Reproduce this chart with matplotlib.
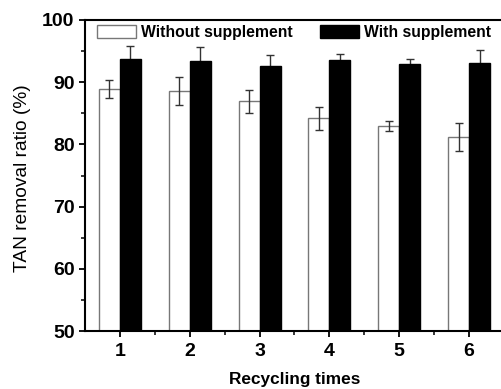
import numpy as np
import matplotlib
matplotlib.use('Agg')
import matplotlib.pyplot as plt

plt.rcParams['font.family'] = ['Liberation Sans', 'DejaVu Sans']

cycles = [1, 2, 3, 4, 5, 6]
without_sup = [88.9, 88.6, 86.9, 84.2, 82.9, 81.2]
without_err = [1.45, 2.2, 1.8, 1.85, 0.8, 2.3]
with_sup = [93.7, 93.4, 92.6, 93.5, 92.9, 93.1]
with_err = [2.1, 2.2, 1.8, 1.0, 0.9, 2.0]

x = np.array(cycles)
w = 0.3

fig = plt.figure(figsize=(5.01, 3.89), dpi=100)
ax = fig.add_axes([85/501, 58/389, 419/501, 311/389])

ax.bar(x - w/2, without_sup, w, color='white', edgecolor='#777777', linewidth=1.0,
       label='Without supplement', zorder=2)
ax.errorbar(x - w/2, without_sup, yerr=without_err, fmt='none', ecolor='#333333',
            elinewidth=1.0, capsize=3, capthick=1.0, zorder=3)
ax.bar(x + w/2, with_sup, w, color='black', edgecolor='black', linewidth=1.0,
       label='With supplement', zorder=2)
ax.errorbar(x + w/2, with_sup, yerr=with_err, fmt='none', ecolor='#333333',
            elinewidth=1.0, capsize=3, capthick=1.0, zorder=1)

ax.set_xlim(0.5, 6.5)
ax.set_ylim(50, 100)
ax.set_xticks(cycles)
ax.set_xticks(np.arange(1.5, 6.5, 1), minor=True)
ax.set_yticks([50, 60, 70, 80, 90, 100])
ax.set_yticks([55, 65, 75, 85, 95], minor=True)
ax.tick_params(which='major', direction='out', length=4, width=1.3, labelsize=14)
ax.tick_params(which='minor', direction='out', length=3, width=1.1)
ax.tick_params(axis='x', pad=5)
for lab in ax.get_xticklabels() + ax.get_yticklabels():
    lab.set_fontweight('bold')
for s in ax.spines.values():
    s.set_linewidth(1.5)

ax.set_ylabel('TAN removal ratio (%)', fontsize=13.8)
ax.yaxis.set_label_coords(-0.13, 0.493)
ax.set_xlabel('Recycling times', fontsize=12.4, fontweight='bold')
ax.xaxis.set_label_coords(0.5, -0.132)
ax.xaxis.label.set_va('top')

leg = ax.legend(loc='upper left', ncol=2, frameon=False, bbox_to_anchor=(-0.006, 1.03),
                handlelength=2.5, handleheight=0.95, handletextpad=0.3,
                columnspacing=1.75, borderaxespad=0.5,
                prop={'weight': 'bold', 'size': 11.3})

fig.savefig('out.png', dpi=100)
